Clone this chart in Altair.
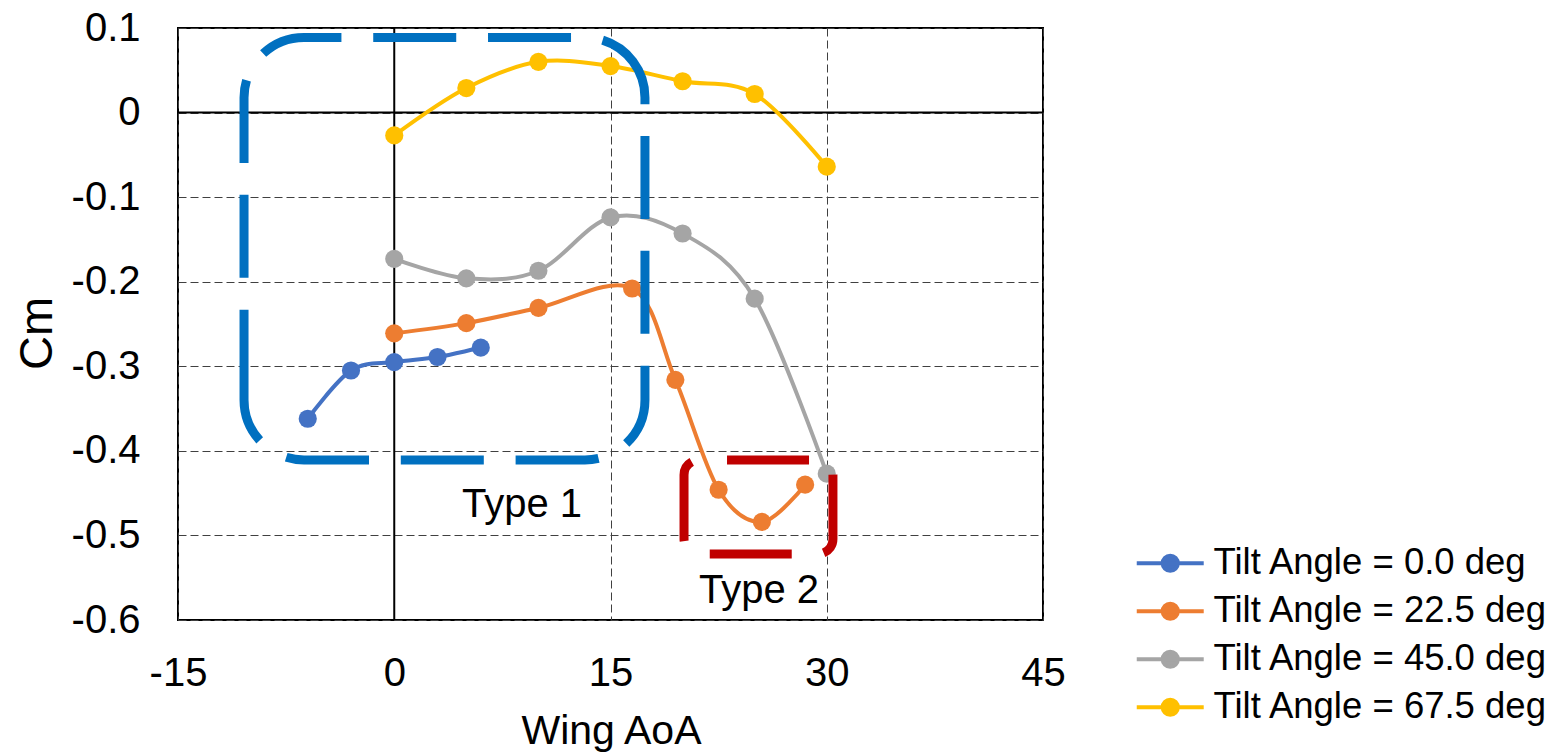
import altair as alt
import pandas as pd

# ---- data ----
series_names = ["Tilt Angle = 0.0 deg", "Tilt Angle = 22.5 deg",
                "Tilt Angle = 45.0 deg", "Tilt Angle = 67.5 deg"]
series_colors = ["#4472C4", "#ED7D31", "#A5A5A5", "#FFC000"]

aoa_0 = [-6, -3, 0, 3, 6]
cm_0 = [-0.362, -0.305, -0.295, -0.289, -0.278]

aoa_225 = [0, 5, 10, 16.5, 19.5, 22.5, 25.5, 28.5]
cm_225 = [-0.261, -0.249, -0.231, -0.208, -0.316, -0.446, -0.484, -0.440]

aoa_45 = [0, 5, 10, 15, 20, 25, 30]
cm_45 = [-0.173, -0.196, -0.187, -0.124, -0.143, -0.220, -0.427]

aoa_675 = [0, 5, 10, 15, 20, 25, 30]
cm_675 = [-0.027, 0.029, 0.060, 0.055, 0.037, 0.022, -0.064]

x_ticks = [-15, 0, 15, 30, 45]
y_ticks = [-0.6, -0.5, -0.4, -0.3, -0.2, -0.1, 0, 0.1]

# annotation boxes (data coordinates)
box_names = ["Type 1", "Type 2"]
box_x1 = [-10.42, 20.10]
box_x2 = [17.39, 30.43]
box_y1 = [0.0888, -0.4108]
box_y2 = [-0.4108, -0.522]
label_x = [8.86, 25.30]
label_y = [-0.478, -0.580]

rows = []
for name, xs, ys in zip(series_names, [aoa_0, aoa_225, aoa_45, aoa_675],
                        [cm_0, cm_225, cm_45, cm_675]):
    for a, c in zip(xs, ys):
        rows.append({"series": name, "aoa": a, "cm": c})
df = pd.DataFrame(rows)

boxes = pd.DataFrame({"name": box_names, "x1": box_x1, "x2": box_x2,
                      "y1": box_y1, "y2": box_y2})
labels = pd.DataFrame({"name": box_names, "x": label_x, "y": label_y})

FONT = "Liberation Sans"

xscale = alt.Scale(domain=[-15, 45], nice=False, zero=False)
yscale = alt.Scale(domain=[-0.6, 0.1], nice=False, zero=False)
cscale = alt.Scale(domain=series_names, range=series_colors)

xaxis = alt.Axis(values=x_ticks, title="Wing AoA", grid=True,
                 gridDash=[8, 4], gridColor="#404040", gridWidth=1,
                 domain=False, ticks=False, tickSize=0, labelFlush=False,
                 labelFontSize=40, labelPadding=65, labelBaseline="alphabetic",
                 labelExpr="(datum.value < 0 ? '-' : '') + format(abs(datum.value), 'd')",
                 titleFontSize=41, titleFontWeight="normal",
                 titleBaseline="alphabetic", titleY=123, titleX=433)
yaxis = alt.Axis(values=y_ticks, title="Cm", grid=True,
                 gridDash=[8, 4], gridColor="#404040", gridWidth=1,
                 domain=False, ticks=False, tickSize=0, labelFlush=False,
                 labelFontSize=40, labelPadding=38,
                 labelExpr="datum.value == 0 ? '0' : (datum.value < 0 ? '-' : '') + format(abs(datum.value), '.1f')",
                 titleFontSize=47, titleFontWeight="normal",
                 titleAngle=270, titleBaseline="alphabetic", titleAlign="center",
                 titleX=-127, titleY=305)

legend_path = "M-1,0L6.05,0M1.726,0A0.8,0.8,0,1,1,3.326,0A0.8,0.8,0,1,1,1.726,0Z"
legend = alt.Legend(title=None, orient="none", legendX=950, legendY=517,
                    symbolType=legend_path, symbolSize=361, symbolStrokeWidth=4,
                    symbolOpacity=1,
                    labelFontSize=36.5, labelFont=FONT, labelColor="black",
                    labelOffset=49, rowPadding=11, padding=0,
                    labelLimit=500)

base = alt.Chart(df)

lines = base.mark_line(interpolate="cardinal", strokeWidth=4).encode(
    x=alt.X("aoa:Q", scale=xscale, axis=xaxis),
    y=alt.Y("cm:Q", scale=yscale, axis=yaxis),
    color=alt.Color("series:N", scale=cscale, legend=legend),
    detail="series:N",
)

points = base.mark_point(filled=True, size=330, opacity=1).encode(
    x=alt.X("aoa:Q", scale=xscale),
    y=alt.Y("cm:Q", scale=yscale),
    color=alt.Color("series:N", scale=cscale, legend=legend),
)

zero_v = alt.Chart(pd.DataFrame({"x": [0]})).mark_rule(color="black", strokeWidth=2).encode(
    x=alt.X("x:Q", scale=xscale))
zero_h = alt.Chart(pd.DataFrame({"y": [0]})).mark_rule(color="black", strokeWidth=2).encode(
    y=alt.Y("y:Q", scale=yscale))

# dash style of the blue box: long dashes, pattern restarting on the left side
DASH, GAP = 83.0, 31.8
blue_dash = [37.4, GAP] + [DASH, GAP] * 9 + [134.6, GAP] + [DASH, GAP] * 2 + [45.6, 0.01]

box1 = alt.Chart(boxes.iloc[[0]]).mark_rect(
    fill=None, fillOpacity=0, stroke="#0070C0", strokeWidth=9,
    strokeDash=blue_dash, cornerRadius=60
).encode(x=alt.X("x1:Q", scale=xscale), x2="x2:Q",
         y=alt.Y("y1:Q", scale=yscale), y2="y2:Q")

box2 = alt.Chart(boxes.iloc[[1]]).mark_rect(
    fill=None, fillOpacity=0, stroke="#C00000", strokeWidth=9,
    strokeDash=[82, 32], strokeDashOffset=86, cornerRadius=15
).encode(x=alt.X("x1:Q", scale=xscale), x2="x2:Q",
         y=alt.Y("y1:Q", scale=yscale), y2="y2:Q")

texts = alt.Chart(labels).mark_text(
    fontSize=40, font=FONT, color="black", align="center", baseline="alphabetic"
).encode(x=alt.X("x:Q", scale=xscale), y=alt.Y("y:Q", scale=yscale), text="name:N")

chart = alt.layer(zero_v, zero_h, lines, points, box1, box2, texts).properties(
    width=865, height=592,
    autosize=alt.AutoSizeParams(type="none"),
    padding={"left": 178, "top": 28, "right": 514, "bottom": 135},
    background="white",
).configure(font=FONT).configure_view(
    stroke="black", strokeWidth=2
).configure_axis(
    labelColor="black", titleColor="black", labelFont=FONT, titleFont=FONT
)

chart.save("out.html", embed_options={"renderer": "svg", "actions": False})
